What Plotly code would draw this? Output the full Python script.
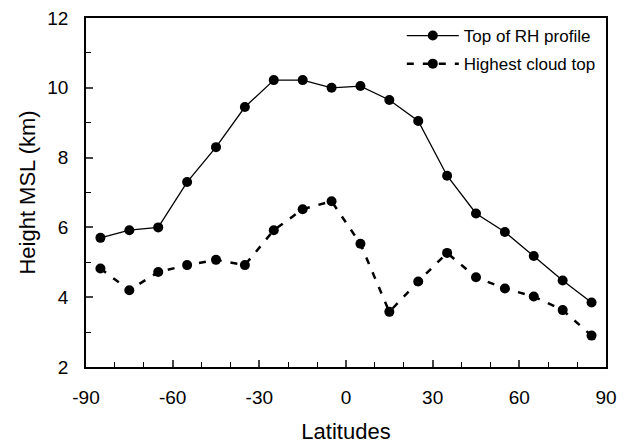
import plotly.graph_objects as go

latitudes = [-85, -75, -65, -55, -45, -35, -25, -15, -5, 5, 15, 25, 35, 45, 55, 65, 75, 85]
rh_top = [5.7, 5.92, 6.0, 7.3, 8.3, 9.45, 10.22, 10.22, 10.0, 10.05, 9.65, 9.05, 7.48, 6.4, 5.87, 5.18, 4.48, 3.85]
cloud_top = [4.82, 4.2, 4.72, 4.92, 5.07, 4.92, 5.92, 6.52, 6.75, 5.53, 3.58, 4.45, 5.27, 4.57, 4.25, 4.02, 3.63, 2.9]
x_ticks = [-90, -60, -30, 0, 30, 60, 90]
x_tick_text = ["-90", "-60", "-30", "0", "30", "60", "90"]
y_ticks = [2, 4, 6, 8, 10, 12]

fig = go.Figure()
fig.add_trace(go.Scatter(x=latitudes, y=rh_top, mode="lines+markers", name="Top of RH profile",
                         legendgroup="a",
                         line=dict(color="black", width=1.3),
                         marker=dict(color="black", size=10)))
fig.add_trace(go.Scatter(x=latitudes, y=cloud_top, mode="lines+markers", name="Highest cloud top",
                         legendgroup="b",
                         line=dict(color="black", width=2.5, dash="7px,9px"),
                         marker=dict(color="black", size=10)))

font = "Liberation Sans, Arial, sans-serif"
fig.update_layout(
    width=625, height=444,
    margin=dict(l=86, r=19, t=18, b=77),
    paper_bgcolor="white", plot_bgcolor="white",
    font=dict(family=font, color="black", size=19),
    showlegend=True,
    legend=dict(x=0.99, y=1.0, xanchor="right", yanchor="top",
                bgcolor="rgba(0,0,0,0)", font=dict(size=17), tracegroupgap=3,
                itemwidth=52),
    xaxis=dict(range=[-90, 90], tickvals=x_ticks, ticktext=x_tick_text, automargin=False,
               ticks="inside", ticklen=7, tickwidth=1.5, ticklabelstandoff=12,
               showline=True, linecolor="black", linewidth=1.5, mirror=True, showgrid=False,
               zeroline=False, tickfont=dict(size=19),
               minor=dict(dtick=10, ticks="inside", ticklen=5, tickwidth=1.2, tickcolor="black"),
               title=dict(text="Latitudes", font=dict(size=22), standoff=17)),
    yaxis=dict(range=[2, 12], tickvals=y_ticks, automargin=False,
               ticks="inside", ticklen=7, tickwidth=1.5, ticklabelstandoff=12,
               showline=True, linecolor="black", linewidth=1.5, mirror=True, showgrid=False,
               zeroline=False, tickfont=dict(size=19),
               minor=dict(dtick=1, ticks="inside", ticklen=5, tickwidth=1.2, tickcolor="black"),
               title=dict(text="Height MSL (km)", font=dict(size=22), standoff=6)),
)

fig.write_html("out.html")
